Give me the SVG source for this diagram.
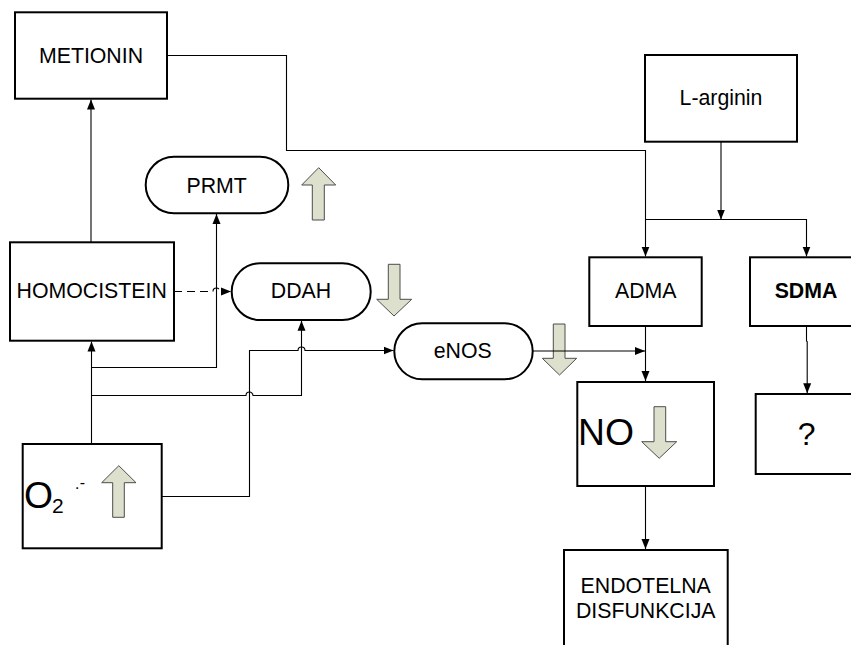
<svg xmlns="http://www.w3.org/2000/svg" width="851" height="645" viewBox="0 0 851 645">
<defs>
<marker id="ah" markerUnits="userSpaceOnUse" markerWidth="10" markerHeight="10" viewBox="0 0 10 10" refX="10" refY="5" orient="auto">
<path d="M0,1 L10,5 L0,9 Z" fill="#000"/>
</marker>
<style>
.box{fill:#fff;stroke:#000;stroke-width:2}
.t{font-family:"Liberation Sans",Arial,sans-serif;font-size:21.3px;fill:#000;text-anchor:middle}
.big{font-family:"Liberation Sans",Arial,sans-serif;font-size:37.3px;fill:#000}
.c{fill:none;stroke:#000;stroke-width:1.1}
.blk{fill:#DDE0CC;stroke:#4D4D4D;stroke-width:1}
</style>
</defs>
<rect width="851" height="645" fill="#fff"/>
<g id="metionin"><rect class="box" x="15" y="12.3" width="152" height="86.4"/><text class="t" x="91" y="63">METIONIN</text></g>
<g id="homocistein"><rect class="box" x="10" y="242.3" width="164" height="98.4"/><text class="t" x="91.7" y="298.3">HOMOCISTEIN</text></g>
<g id="o2"><rect class="box" x="22.7" y="444" width="139" height="104.3"/>
<text class="big" x="24" y="508.3">O</text><text x="52" y="513" font-family="Liberation Sans, Arial, sans-serif" font-size="21px">2</text>
<text x="74.5" y="493" font-family="Liberation Sans, Arial, sans-serif" font-size="16px">·<tspan dy="-5">-</tspan></text>
<polygon class="blk" points="118.8,465.7 136,482.7 124.3,482.7 124.3,517.3 112.7,517.3 112.7,482.7 101.7,482.7"/></g>
<g id="prmt"><rect class="box" x="145.7" y="156.7" width="142.6" height="56.6" rx="28.3"/><text class="t" x="216.7" y="192.7">PRMT</text>
<polygon class="blk" points="318.7,167.7 335.7,185 324.3,185 324.3,220 312.3,220 312.3,185 301.7,185"/></g>
<g id="ddah"><rect class="box" x="231.7" y="263.3" width="139" height="56.7" rx="28.3"/><text class="t" x="301" y="298.3">DDAH</text>
<polygon class="blk" points="388.3,264.3 400,264.3 400,299.3 411.7,299.3 394,316 376.7,299.3 388.3,299.3"/></g>
<g id="enos"><rect class="box" x="394.3" y="323.3" width="138.4" height="56" rx="28"/><text class="t" x="462.7" y="358.3">eNOS</text>
<polygon class="blk" points="553.3,324 565,324 565,358.3 576.7,358.3 559.5,375 542.3,358.3 553.3,358.3"/></g>
<g id="larginin"><rect class="box" x="645" y="55" width="152" height="86.7"/><text class="t" x="721" y="105">L-arginin</text></g>
<g id="adma"><rect class="box" x="589.3" y="257.3" width="112.4" height="68.7"/><text class="t" x="645.7" y="297.7">ADMA</text></g>
<g id="sdma"><rect class="box" x="750" y="257.3" width="110" height="68.7"/><text class="t" x="806" y="297.7" font-weight="bold">SDMA</text></g>
<g id="no"><rect class="box" x="577.3" y="382" width="136.7" height="104"/><text class="big" x="578" y="445">NO</text>
<polygon class="blk" points="654,406.7 665.7,406.7 665.7,441.7 676.7,441.7 659.2,458.3 641.7,441.7 654,441.7"/></g>
<g id="unknown"><rect class="box" x="755.7" y="394" width="110" height="80"/><text class="t" x="806.7" y="445" style="font-size:32px">?</text></g>
<g id="endotelna"><rect class="box" x="564" y="550" width="163.7" height="110"/><text class="t" x="645.7" y="593.3">ENDOTELNA</text><text class="t" x="645.7" y="618.3">DISFUNKCIJA</text></g>
<g id="connectors">
<path class="c" d="M91 242.3 V99.5" marker-end="url(#ah)"/>
<path class="c" d="M167 55.5 H286.5 V150.5 H645.5 V256.5" marker-end="url(#ah)"/>
<path class="c" d="M721 141.7 V219.5" marker-end="url(#ah)"/>
<path class="c" d="M645.5 219.5 H806.5 V256.5" marker-end="url(#ah)"/>
<path class="c" d="M91.5 444 V341.5" stroke-width="2" marker-end="url(#ah)"/>
<path class="c" d="M91.5 367.5 H216.5 V214" marker-end="url(#ah)"/>
<path class="c" d="M91.5 395.5 H246 a3.5 3.5 0 0 1 7 0 H301.5 V320.8" marker-end="url(#ah)"/>
<path class="c" d="M161.7 496.5 H249.5 V350.5 H298 a3.5 3.5 0 0 1 7 0 H393.5" marker-end="url(#ah)"/>
<path class="c" d="M174 291.5 H213 a3.5 3.5 0 0 1 7 0 H231" stroke-dasharray="8,5" marker-end="url(#ah)"/>
<path class="c" d="M532.7 351 H645" marker-end="url(#ah)"/>
<path class="c" d="M645.5 326 V381" marker-end="url(#ah)"/>
<path class="c" d="M645.5 486 V549" marker-end="url(#ah)"/>
<path class="c" d="M806.5 326 V341 L807.2 341.7 V393.3" marker-end="url(#ah)"/>
</g>
</svg>
